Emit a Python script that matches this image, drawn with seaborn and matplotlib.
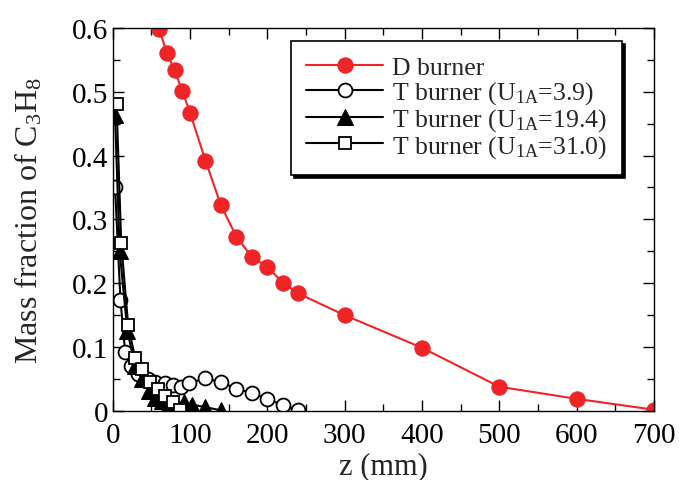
import numpy as np
import pandas as pd
import matplotlib
matplotlib.use("Agg")
import matplotlib.pyplot as plt
import seaborn as sns
from matplotlib.ticker import MultipleLocator, FuncFormatter

# Data
d_z = [60, 70, 80, 90, 100, 120, 140, 160, 180, 200, 220, 240, 300, 400, 500, 600, 700]
d_y = [0.598, 0.561, 0.534, 0.501, 0.467, 0.392, 0.322, 0.273, 0.241, 0.226, 0.201, 0.184,
       0.150, 0.099, 0.038, 0.019, 0.002]

t1_z = [3, 10, 16, 24, 33, 45, 55, 67, 78, 88, 99, 120, 140, 160, 180, 200, 220, 240]
t1_y = [0.351, 0.174, 0.093, 0.070, 0.058, 0.050, 0.046, 0.044, 0.040, 0.038, 0.044, 0.051,
        0.045, 0.035, 0.028, 0.019, 0.009, 0.001]

t2_z = [3, 9, 19, 29, 38, 47, 55, 64, 73, 82, 92, 102, 120, 140]
t2_y = [0.463, 0.250, 0.125, 0.070, 0.050, 0.032, 0.020, 0.016, 0.012, 0.010, 0.014, 0.010,
        0.006, 0.001]

t3_z = [5, 11, 20, 29, 38, 48, 58, 67, 78, 87]
t3_y = [0.480, 0.263, 0.134, 0.083, 0.066, 0.046, 0.034, 0.024, 0.014, 0.001]

labels = ["D burner", r"T burner (U$_{\mathregular{1A}}$=3.9)",
          r"T burner (U$_{\mathregular{1A}}$=19.4)", r"T burner (U$_{\mathregular{1A}}$=31.0)"]

sns.set_theme(style="ticks")
plt.rcParams['font.family'] = ['Liberation Serif', 'DejaVu Serif']
plt.rcParams['mathtext.fontset'] = 'custom'
plt.rcParams['mathtext.rm'] = 'Liberation Serif'
plt.rcParams['mathtext.it'] = 'Liberation Serif'

fig = plt.figure(figsize=(6.79, 4.81), dpi=100)
ax = fig.add_axes([0.166, 0.1435, 0.797, 0.7965])

common = dict(ax=ax, sort=False, estimator=None, linewidth=1.5)
sns.lineplot(x=d_z, y=d_y, color="#ee2427", marker="o", markersize=11,
             markeredgecolor="#ee2427", markerfacecolor="#ee2427", label=labels[0], **common)
sns.lineplot(x=t1_z, y=t1_y, color="black", marker="o", markersize=10,
             markeredgecolor="black", markerfacecolor="white", markeredgewidth=1.3,
             label=labels[1], **common)
sns.lineplot(x=t2_z, y=t2_y, color="black", marker="^", markersize=11,
             markeredgecolor="black", markerfacecolor="black", label=labels[2], **common)
sns.lineplot(x=t3_z, y=t3_y, color="black", marker="s", markersize=9,
             markeredgecolor="black", markerfacecolor="white", markeredgewidth=1.3,
             label=labels[3], **common)

ax.set_xlim(0, 700)
ax.set_ylim(0, 0.6)
ax.xaxis.set_major_locator(MultipleLocator(100))
ax.xaxis.set_minor_locator(MultipleLocator(50))
ax.yaxis.set_major_locator(MultipleLocator(0.1))
ax.yaxis.set_minor_locator(MultipleLocator(0.05))
ax.yaxis.set_major_formatter(FuncFormatter(lambda v, p: "0" if abs(v) < 1e-9 else f"{v:.1f}"))
ax.tick_params(which="both", direction="in", top=True, right=True, labelsize=21,
               colors="black", width=1.0)
ax.tick_params(which="major", length=8)
ax.tick_params(axis="x", which="major", pad=8)
ax.tick_params(axis="y", which="major", pad=3)
ax.tick_params(which="minor", length=5)
for s in ax.spines.values():
    s.set_linewidth(1.0)
    s.set_color("black")

ax.set_xlabel("z (mm)", fontsize=22, labelpad=2)
ax.set_ylabel(r"Mass fraction of C$_{\mathregular{3}}$H$_{\mathregular{8}}$", fontsize=23, labelpad=20)

leg = ax.legend(loc="upper left", bbox_to_anchor=(0.329, 0.966), borderaxespad=0,
                fontsize=18.5, frameon=True, fancybox=False,
                shadow={'color': 'black', 'alpha': 1},
                handlelength=3.0, labelspacing=0.0, handletextpad=0.35, borderpad=0.6)
leg.get_frame().set_edgecolor("black")
leg.get_frame().set_linewidth(1.2)
leg.get_frame().set_alpha(1)

fig.savefig("out.png", dpi=100)
